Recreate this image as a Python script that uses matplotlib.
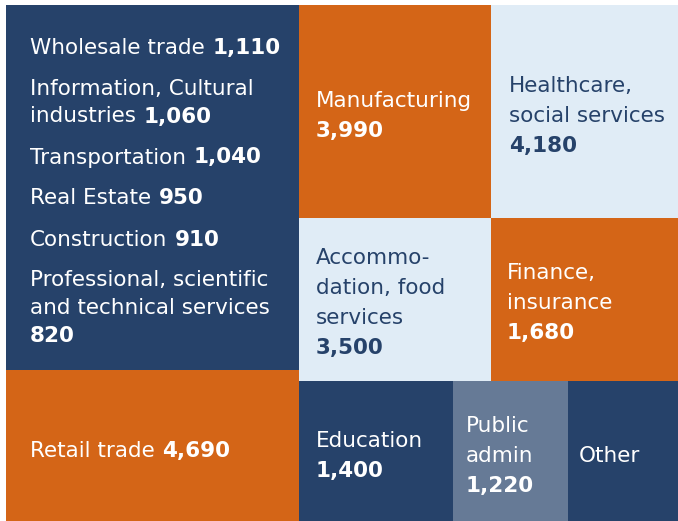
import matplotlib
matplotlib.use("Agg")
import matplotlib.pyplot as plt
from matplotlib.patches import Rectangle

# ---------------- data ----------------
small_sectors = ["Wholesale trade", "Information, Cultural\nindustries", "Transportation",
                 "Real Estate", "Construction", "Professional, scientific\nand technical services"]
small_values = [1110, 1060, 1040, 950, 910, 820]
small_number_newline = [False, False, False, False, False, True]

sectors = ["Manufacturing", "Healthcare,\nsocial services", "Accommo-\ndation, food\nservices",
           "Finance,\ninsurance", "Retail trade", "Education", "Public\nadmin", "Other"]
values = [3990, 4180, 3500, 1680, 4690, 1400, 1220, None]
number_newline = [True, True, True, True, False, True, True, True]

# ---------------- styles / layout ----------------
NAVY = "#26426A"
ORANGE = "#D46517"
LIGHT = "#E0ECF6"
SLATE = "#667A96"
WHITE = "#FFFFFF"

FONT = "DejaVu Sans"
FS = 15.5
NUM_WEIGHT = "bold"

# rectangles in pixel space: (x0, y0, x1, y1)
small_rect = (6, 5, 299, 370)
small_color = NAVY
rects = [(299, 5, 491, 218), (491, 5, 678, 218), (299, 218, 491, 381), (491, 218, 678, 381),
         (6, 370, 299, 521), (299, 381, 453, 521), (453, 381, 568, 521), (568, 381, 678, 521)]
fills = [ORANGE, LIGHT, LIGHT, ORANGE, ORANGE, NAVY, SLATE, NAVY]
text_colors = [WHITE, NAVY, NAVY, WHITE, WHITE, WHITE, WHITE, WHITE]
# first baseline positions of labels
text_pos = [(316, 107), (509, 92), (316, 264), (507, 279), (30, 457), (316, 447), (466, 432), (579, 462)]
small_x = 30
small_first_baseline = 54
LINE_STEP_SMALL = 27.5
LABEL_GAP_SMALL = 41
LINE_STEP = 30

W, H = 678, 521
fig = plt.figure(figsize=(W / 100, H / 100), dpi=100)
ax = fig.add_axes([0, 0, 1, 1])
ax.set_xlim(0, W)
ax.set_ylim(H, 0)
ax.axis("off")
fig.patch.set_facecolor("white")


def fmt(v):
    return f"{v:,}"


def draw_label(x, y, name, value, newline, color, step):
    lines = name.split("\n")
    last = None
    for i, line in enumerate(lines):
        last = ax.text(x, y + i * step, line, color=color, fontsize=FS, family=FONT,
                       va="baseline", ha="left")
    if value is None:
        return len(lines)
    if newline:
        ax.text(x, y + len(lines) * step, fmt(value), color=color, fontsize=FS,
                family=FONT, fontweight=NUM_WEIGHT, va="baseline", ha="left")
        return len(lines) + 1
    ax.annotate(fmt(value), xy=(1, 0), xycoords=last, xytext=(5.5, 0),
                textcoords="offset points", color=color, fontsize=FS, family=FONT,
                fontweight=NUM_WEIGHT, va="bottom", ha="left")
    return len(lines)


# big grouped block of small sectors
x0, y0, x1, y1 = small_rect
ax.add_patch(Rectangle((x0, y0), x1 - x0, y1 - y0, facecolor=small_color, edgecolor="none"))
y = small_first_baseline
for name, val, nl in zip(small_sectors, small_values, small_number_newline):
    n = draw_label(small_x, y, name, val, nl, WHITE, LINE_STEP_SMALL)
    y += (n - 1) * LINE_STEP_SMALL + LABEL_GAP_SMALL

for (x0, y0, x1, y1), fc, tc, (tx, ty), name, val, nl in zip(
        rects, fills, text_colors, text_pos, sectors, values, number_newline):
    ax.add_patch(Rectangle((x0, y0), x1 - x0, y1 - y0, facecolor=fc, edgecolor="none"))
    draw_label(tx, ty, name, val, nl, tc, LINE_STEP)

fig.savefig("out.png", dpi=100, facecolor="white")
